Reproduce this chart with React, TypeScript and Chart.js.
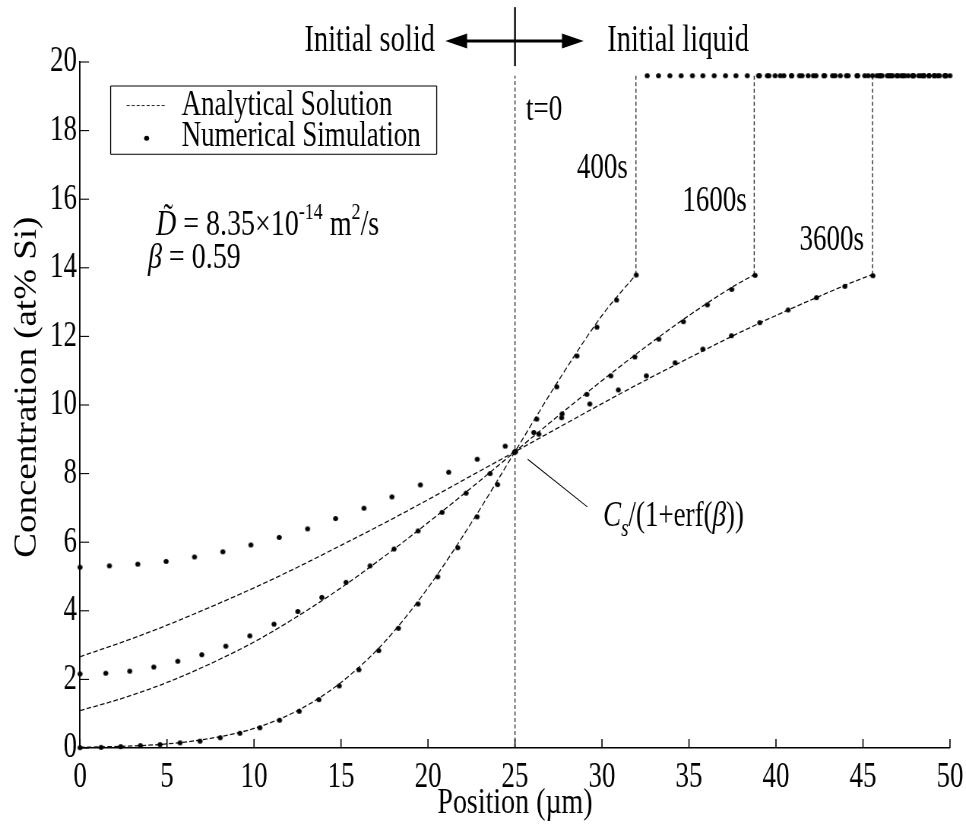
import React, { useEffect, useRef } from 'react';
import { Chart, registerables } from 'chart.js';

Chart.register(...registerables);

// ---------- figure geometry (final-pixel based) ----------
const K = 0.76; // horizontal compression of the whole figure
const W = Math.round(966 / K);
const H = 825;
const FONT = '"Liberation Serif", "Times New Roman", serif';
const fs = (n: number) => n / K;

// ---------- axes ----------
const X_MIN = 0;
const X_MAX = 50;
const X_STEP = 5;
const Y_MIN = 0;
const Y_MAX = 20;
const Y_STEP = 2;
const X_TITLE = 'Position (µm)';
const Y_TITLE = 'Concentration (at% Si)';

// ---------- values ----------
const LIQUID_C = 19.6; // initial liquid concentration
const CS = 13.8; // liquid-side interface concentration
const T0_X = 25; // initial interface position
const INTERFACE_X = [31.95, 38.75, 45.55]; // 400 s, 1600 s, 3600 s

// analytical solution curves
const AN400_X = [0, 2.5, 5, 7.5, 10, 12.5, 15, 17.5, 20, 22.5, 25, 27.5, 30, 31.95];
const AN400_Y = [0.02, 0.05, 0.12, 0.28, 0.57, 1.09, 1.91, 3.09, 4.67, 6.57, 8.64, 10.71, 12.61, 13.8];
const AN1600_X = [0, 2.5, 5, 7.5, 10, 12.5, 15, 17.5, 20, 22.5, 25, 27.5, 30, 32.5, 35, 37.5, 38.75];
const AN1600_Y = [1.09, 1.46, 1.91, 2.46, 3.09, 3.84, 4.67, 5.59, 6.57, 7.59, 8.64, 9.69, 10.71, 11.69, 12.61, 13.44, 13.8];
const AN3600_X = [0, 2.5, 5, 7.5, 10, 12.5, 15, 17.5, 20, 22.5, 25, 27.5, 30, 32.5, 35, 37.5, 40, 42.5, 45, 45.55];
const AN3600_Y = [2.66, 3.1, 3.58, 4.11, 4.67, 5.27, 5.91, 6.56, 7.24, 7.94, 8.64, 9.34, 10.04, 10.72, 11.37, 12.01, 12.61, 13.17, 13.7, 13.8];

// numerical simulation points
const NUM400_X = [0, 1.21, 2.34, 3.47, 4.6, 5.75, 6.9, 8.06, 9.19, 10.34, 11.47, 12.6, 13.73, 14.9, 16.03, 17.17, 18.3, 19.43, 20.56, 21.71, 22.82, 24.0, 25.0, 26.25, 27.4, 28.56, 29.71, 30.84, 31.97];
const NUM400_Y = [0.01, 0.02, 0.04, 0.07, 0.1, 0.15, 0.2, 0.3, 0.43, 0.59, 0.81, 1.07, 1.41, 1.81, 2.28, 2.84, 3.49, 4.2, 4.99, 5.84, 6.74, 7.68, 8.64, 9.59, 10.53, 11.43, 12.27, 13.06, 13.79];
const NUM400_TOP_X = [32.6, 33.25, 33.9, 34.55, 35.2, 35.8, 36.45, 37.1, 37.7, 38.35, 39.0, 39.6, 40.25, 40.9, 41.5, 42.15, 42.8, 43.4, 44.05, 44.7, 45.3, 45.95, 46.6, 47.2, 47.85, 48.5, 49.1, 49.75];

const NUM1600_X = [0, 1.48, 2.86, 4.24, 5.62, 7.0, 8.38, 9.76, 11.15, 12.52, 13.9, 15.29, 16.67, 18.05, 19.43, 20.81, 22.19, 23.57, 24.97, 26.08, 27.71, 29.13, 30.51, 31.89, 33.27, 34.68, 36.06, 37.46, 38.8];
const NUM1600_Y = [2.16, 2.18, 2.24, 2.36, 2.53, 2.72, 2.97, 3.27, 3.61, 3.98, 4.39, 4.83, 5.31, 5.8, 6.33, 6.87, 7.43, 8.0, 8.62, 9.2, 9.74, 10.31, 10.85, 11.4, 11.92, 12.43, 12.92, 13.37, 13.78];
const NUM1600_TOP_X = [39.05, 39.5, 39.95, 40.45, 40.9, 41.35, 41.85, 42.3, 42.75, 43.25, 43.7, 44.15, 44.65, 45.1, 45.55, 46.0, 46.5, 46.95, 47.4, 47.9, 48.35, 48.8, 49.3, 49.75];

const NUM3600_X = [0, 1.69, 3.32, 4.95, 6.58, 8.21, 9.82, 11.45, 13.08, 14.69, 16.32, 17.93, 19.56, 21.19, 22.83, 24.44, 25.03, 26.37, 27.68, 29.3, 30.94, 32.55, 34.2, 35.8, 37.44, 39.07, 40.7, 42.33, 43.96, 45.57];
const NUM3600_Y = [5.27, 5.31, 5.36, 5.44, 5.57, 5.72, 5.92, 6.14, 6.39, 6.69, 6.99, 7.32, 7.67, 8.04, 8.42, 8.8, 8.64, 9.15, 9.63, 10.03, 10.44, 10.85, 11.23, 11.63, 12.02, 12.4, 12.77, 13.13, 13.46, 13.77];
const NUM3600_TOP_X = [45.8, 46.1, 46.4, 46.7, 47.0, 47.3, 47.6, 47.9, 48.2, 48.5, 48.8, 49.1, 49.4, 49.7, 50.0];

// ---------- texts ----------
const LEGEND_LABELS = ['Analytical Solution', 'Numerical Simulation'];
const TIME_LABELS = ['400s', '1600s', '3600s'];
const SOLID_LABEL = 'Initial solid';
const LIQUID_LABEL = 'Initial liquid';
const T0_LABEL = 't=0';

const pts = (xs: number[], ys: number[]) => xs.map((x, i) => ({ x, y: ys[i] }));
const flat = (xs: number[], y: number) => xs.map((x) => ({ x, y }));

type Run = { t: string; it?: boolean; sz?: number; dy?: number };

function fontStr(size: number, italic = false) {
  return `${italic ? 'italic ' : ''}${fs(size)}px ${FONT}`;
}

function drawRuns(ctx: CanvasRenderingContext2D, runs: Run[], x: number, y: number, base: number) {
  let cx = x;
  ctx.textAlign = 'left';
  ctx.textBaseline = 'middle';
  for (const r of runs) {
    ctx.font = fontStr(r.sz ?? base, r.it);
    ctx.fillText(r.t, cx, y + (r.dy ?? 0) / K);
    cx += ctx.measureText(r.t).width;
  }
  return cx;
}

function text(ctx: CanvasRenderingContext2D, s: string, x: number, y: number, size: number, align: CanvasTextAlign, italic = false) {
  ctx.font = fontStr(size, italic);
  ctx.textAlign = align;
  ctx.textBaseline = 'middle';
  ctx.fillText(s, x, y);
}

const POINT_R = 2.5;

function drawDot(ctx: CanvasRenderingContext2D, x: number, y: number) {
  ctx.beginPath();
  ctx.ellipse(x, y, POINT_R / K, POINT_R, 0, 0, Math.PI * 2);
  ctx.fill();
}

function makeDot(): HTMLCanvasElement {
  const c = document.createElement('canvas');
  const rx = POINT_R / K;
  const ry = POINT_R;
  c.width = Math.ceil(rx * 2) + 2;
  c.height = Math.ceil(ry * 2) + 2;
  const g = c.getContext('2d')!;
  g.fillStyle = '#000';
  g.beginPath();
  g.ellipse(c.width / 2, c.height / 2, rx, ry, 0, 0, Math.PI * 2);
  g.fill();
  return c;
}

const annotPlugin = {
  id: 'annot',
  afterDraw(chart: any) {
    const ctx: CanvasRenderingContext2D = chart.ctx;
    const ca = chart.chartArea;
    const xs = chart.scales.x;
    const ys = chart.scales.y;
    const X = (v: number) => xs.getPixelForValue(v);
    const Y = (v: number) => ys.getPixelForValue(v);
    ctx.save();
    ctx.fillStyle = '#000';
    ctx.strokeStyle = '#000';
    ctx.setLineDash([]);

    // inward tick marks
    ctx.lineWidth = 1.2 / K;
    xs.ticks.forEach((t: any) => {
      const p = X(t.value);
      ctx.beginPath();
      ctx.moveTo(p, ca.bottom);
      ctx.lineTo(p, ca.bottom - 9);
      ctx.stroke();
    });
    ctx.lineWidth = 1.1;
    ys.ticks.forEach((t: any) => {
      const p = Y(t.value);
      ctx.beginPath();
      ctx.moveTo(ca.left, p);
      ctx.lineTo(ca.left + 9 / K, p);
      ctx.stroke();
    });

    // y-axis title (rotated)
    ctx.save();
    ctx.translate(27 / K, Y(10.52));
    ctx.scale(0.88 / K, 1);
    ctx.rotate(-Math.PI / 2);
    ctx.font = `37px ${FONT}`;
    ctx.textAlign = 'center';
    ctx.textBaseline = 'middle';
    ctx.fillText(Y_TITLE, 0, 0);
    ctx.restore();

    // top marker: interface line + double arrow
    ctx.lineWidth = 1.8 / K;
    ctx.beginPath();
    ctx.moveTo(X(T0_X), Y(21.6));
    ctx.lineTo(X(T0_X), Y(19.88));
    ctx.stroke();
    const ay = Y(20.61);
    const lt = X(21.0);
    const rt = X(28.95);
    const head = X(1.25) - X(0);
    ctx.lineWidth = 3;
    ctx.beginPath();
    ctx.moveTo(lt + head * 0.5, ay);
    ctx.lineTo(rt - head * 0.5, ay);
    ctx.stroke();
    ctx.beginPath();
    ctx.moveTo(lt, ay);
    ctx.lineTo(lt + head, ay - 7.5);
    ctx.lineTo(lt + head, ay + 7.5);
    ctx.closePath();
    ctx.fill();
    ctx.beginPath();
    ctx.moveTo(rt, ay);
    ctx.lineTo(rt - head, ay - 7.5);
    ctx.lineTo(rt - head, ay + 7.5);
    ctx.closePath();
    ctx.fill();
    text(ctx, SOLID_LABEL, X(20.4), ay, 28.5, 'right');
    text(ctx, LIQUID_LABEL, X(30.3), ay, 28.5, 'left');

    // legend
    const bx0 = X(1.76), bx1 = X(20.5), by0 = Y(19.3), by1 = Y(17.31);
    ctx.lineWidth = 1;
    ctx.beginPath();
    ctx.moveTo(bx0, by0);
    ctx.lineTo(bx1, by0);
    ctx.moveTo(bx0, by1);
    ctx.lineTo(bx1, by1);
    ctx.stroke();
    ctx.lineWidth = 1 / K;
    ctx.beginPath();
    ctx.moveTo(bx0, by0);
    ctx.lineTo(bx0, by1);
    ctx.moveTo(bx1, by0);
    ctx.lineTo(bx1, by1);
    ctx.stroke();
    ctx.lineWidth = 1;
    ctx.strokeStyle = '#222';
    ctx.setLineDash([3 / K, 2 / K]);
    ctx.beginPath();
    ctx.moveTo(X(2.68), Y(18.73));
    ctx.lineTo(X(4.94), Y(18.73));
    ctx.stroke();
    ctx.setLineDash([]);
    drawDot(ctx, X(3.83), Y(17.78));
    text(ctx, LEGEND_LABELS[0], X(5.84), Y(18.73), 27, 'left');
    text(ctx, LEGEND_LABELS[1], X(5.84), Y(17.82), 27, 'left');

    // D and beta
    const dx = X(4.37), dy = Y(15.25);
    ctx.font = fontStr(28, true);
    const dW = ctx.measureText('D').width;
    drawRuns(ctx, [
      { t: 'D', it: true },
      { t: ' = 8.35×10' },
      { t: '-14', sz: 18, dy: -9 },
      { t: ' m' },
      { t: '2', sz: 18, dy: -9 },
      { t: '/s' },
    ], dx, dy, 28);
    text(ctx, '˜', dx + dW * 0.6, dy - 4 / K, 28, 'center');
    drawRuns(ctx, [{ t: 'β', it: true }, { t: ' = 0.59' }], X(3.91), Y(14.29), 28);

    // time labels
    text(ctx, T0_LABEL, X(25.63), Y(18.57), 27, 'left');
    text(ctx, TIME_LABELS[0], X(31.49), Y(16.88), 27, 'right');
    text(ctx, TIME_LABELS[1], X(38.32), Y(15.92), 27, 'right');
    text(ctx, TIME_LABELS[2], X(45.06), Y(14.78), 27, 'right');

    // interface concentration label with leader line
    ctx.lineWidth = 1.1;
    ctx.strokeStyle = '#000';
    ctx.beginPath();
    ctx.moveTo(X(25.73), Y(8.42));
    ctx.lineTo(X(29.16), Y(7.03));
    ctx.stroke();
    drawRuns(ctx, [
      { t: 'C', it: true },
      { t: 's', it: true, sz: 19, dy: 9 },
      { t: '/(1+erf(' },
      { t: 'β', it: true },
      { t: '))' },
    ], X(30.06), Y(6.73), 27);

    ctx.restore();
  },
};

export default function App() {
  const ref = useRef<HTMLCanvasElement | null>(null);

  useEffect(() => {
    const canvas = ref.current;
    if (!canvas) return;
    const dot = makeDot();

    const pointDs = (label: string, data: { x: number; y: number }[]) => ({
      label,
      data,
      showLine: false,
      pointRadius: POINT_R,
      pointStyle: dot,
      pointBackgroundColor: '#000',
      pointBorderWidth: 0,
      order: 0,
      clip: false as any,
    });
    const curveDs = (label: string, data: { x: number; y: number }[]) => ({
      label,
      data,
      showLine: true,
      pointRadius: 0,
      borderColor: '#111',
      borderWidth: 1.3,
      borderDash: [6, 3],
      cubicInterpolationMode: 'monotone' as const,
      fill: false,
      order: 1,
    });
    const vertDs = (label: string, x: number, y0: number, y1: number) => ({
      label,
      data: [{ x, y: y0 }, { x, y: y1 }],
      showLine: true,
      pointRadius: 0,
      borderColor: '#333',
      borderWidth: 1.1 / K,
      borderDash: [4, 2.5],
      fill: false,
      order: 1,
    });

    const datasets: any[] = [
      pointDs('Numerical Simulation 400s', [...pts(NUM400_X, NUM400_Y), ...flat(NUM400_TOP_X, LIQUID_C)]),
      pointDs('Numerical Simulation 1600s', [...pts(NUM1600_X, NUM1600_Y), ...flat(NUM1600_TOP_X, LIQUID_C)]),
      pointDs('Numerical Simulation 3600s', [...pts(NUM3600_X, NUM3600_Y), ...flat(NUM3600_TOP_X, LIQUID_C)]),
      curveDs('Analytical Solution 400s', pts(AN400_X, AN400_Y)),
      curveDs('Analytical Solution 1600s', pts(AN1600_X, AN1600_Y)),
      curveDs('Analytical Solution 3600s', pts(AN3600_X, AN3600_Y)),
      vertDs('Interface 400s', INTERFACE_X[0], CS, LIQUID_C),
      vertDs('Interface 1600s', INTERFACE_X[1], CS, LIQUID_C),
      vertDs('Interface 3600s', INTERFACE_X[2], CS, LIQUID_C),
      vertDs('t=0', T0_X, Y_MIN, LIQUID_C),
    ];

    const tickFont = fs(27);
    const titleFont = fs(28);

    const chart = new Chart(canvas, {
      type: 'scatter',
      data: { datasets },
      options: {
        responsive: false,
        maintainAspectRatio: false,
        animation: false,
        devicePixelRatio: 1,
        events: [],
        layout: { padding: { left: 0, right: 16 / K, top: 62, bottom: 0 } },
        plugins: {
          legend: { display: false },
          tooltip: { enabled: false },
        },
        scales: {
          x: {
            type: 'linear',
            min: X_MIN,
            max: X_MAX,
            grid: { display: false, drawTicks: false },
            border: { display: true, color: '#000', width: 1.5 },
            ticks: {
              stepSize: X_STEP,
              autoSkip: false,
              maxRotation: 0,
              color: '#000',
              font: { family: FONT, size: tickFont },
              padding: 30 - (tickFont * 1.2) / 2,
            },
            title: {
              display: true,
              text: X_TITLE,
              color: '#000',
              font: { family: FONT, size: titleFont },
              padding: { top: 0, bottom: Math.max(0, 18 - (titleFont * 1.2) / 2) },
            },
            afterFit: (s: any) => {
              s.height = 77;
              s.paddingLeft = 0;
              s.paddingRight = 0;
            },
          },
          y: {
            type: 'linear',
            min: Y_MIN,
            max: Y_MAX,
            grid: { display: false, drawTicks: false },
            border: { display: true, color: '#000', width: 1.4 / K },
            ticks: {
              stepSize: Y_STEP,
              autoSkip: false,
              color: '#000',
              font: { family: FONT, size: tickFont },
              padding: 3 / K,
            },
            title: {
              display: false,
              text: Y_TITLE,
            },
            afterFit: (s: any) => {
              s.width = 80 / K;
              s.paddingTop = 0;
              s.paddingBottom = 0;
            },
          },
        },
      } as any,
      plugins: [annotPlugin],
    });

    return () => chart.destroy();
  }, []);

  return (
    <div style={{ position: 'absolute', left: 0, top: 0, width: 966, height: H, overflow: 'hidden', background: '#fff' }}>
      <div style={{ width: W, height: H, transform: `scaleX(${K})`, transformOrigin: '0 0' }}>
        <canvas ref={ref} width={W} height={H} style={{ display: 'block' }} />
      </div>
    </div>
  );
}
